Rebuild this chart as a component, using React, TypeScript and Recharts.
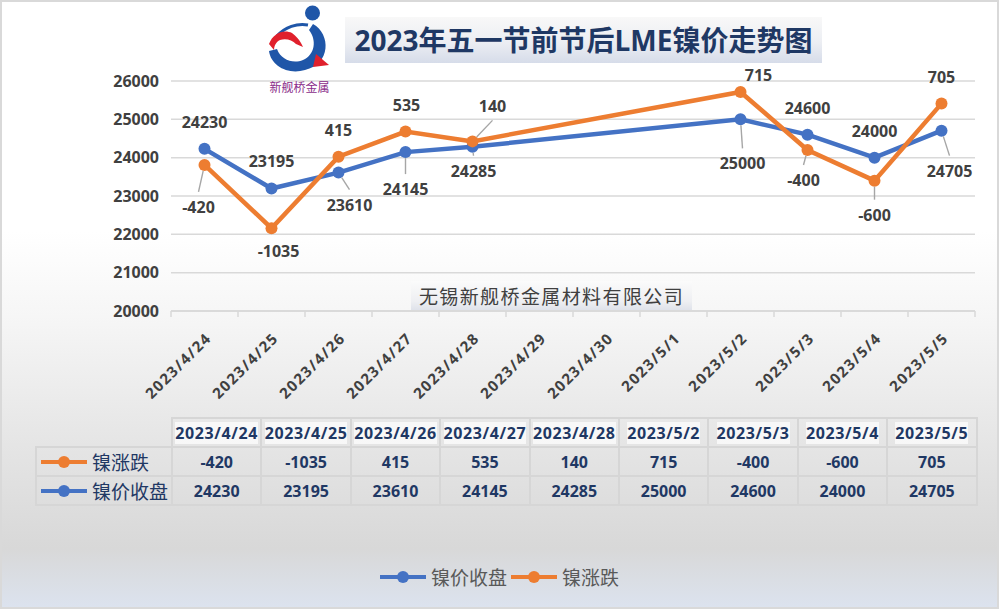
import React from 'react';
import { LineChart, Line, XAxis, YAxis, CartesianGrid, LabelList, Legend } from 'recharts';

const dates = [
  '2023/4/24', '2023/4/25', '2023/4/26', '2023/4/27', '2023/4/28', '2023/4/29',
  '2023/4/30', '2023/5/1', '2023/5/2', '2023/5/3', '2023/5/4', '2023/5/5',
];
const closePrice = [24230, 23195, 23610, 24145, 24285, null, null, null, 25000, 24600, 24000, 24705];
const priceChange = [-420, -1035, 415, 535, 140, null, null, null, 715, -400, -600, 705];
const yTicks = [20000, 21000, 22000, 23000, 24000, 25000, 26000];

const BLUE = '#4472c4';
const ORANGE = '#ed7d31';
const NAVY = '#1f3864';
const TEXT = '#404040';
const FONT = "'Open Sans', 'Noto Sans CJK SC', sans-serif";
const CJK = "'Noto Sans CJK SC', sans-serif";

const W = 999;
const H = 609;
const PLOT_LEFT = 171;
const PLOT_W = 804;
const BAND = PLOT_W / dates.length;

// the orange line sits at close + change in the original sheet
const data = dates.map((d, i) => ({
  date: d,
  close: closePrice[i],
  change: priceChange[i],
  changePlot: closePrice[i] == null || priceChange[i] == null ? null : (closePrice[i] as number) + (priceChange[i] as number),
}));

const tableCols = dates
  .map((d, i) => ({ d, close: closePrice[i], change: priceChange[i] }))
  .filter((c) => c.close != null);

// label placement: [dx, dy, leader line]
type Place = [number, number, boolean?];
const closePlace: Record<number, Place> = {
  0: [0, -27], 1: [0, -28], 2: [11, 32, true], 3: [0, 37, true], 4: [1, 24, true],
  8: [2, 44, true], 9: [0, -27], 10: [0, -27], 11: [8, 40, true],
};
const changePlace: Record<number, Place> = {
  0: [-6, 42, true], 1: [7, 23], 2: [0, -27], 3: [1, -27], 4: [20, -35, true],
  8: [18, -17], 9: [-4, 30, true], 10: [0, 34, true], 11: [0, -27],
};

const makeLabel = (place: Record<number, Place>) => (props: any) => {
  const x = props.x ?? props.viewBox?.x;
  const y = props.y ?? props.viewBox?.y;
  const { value, index } = props;
  if (value == null || x == null || y == null) return null;
  const p = place[index];
  if (!p) return null;
  const [dx, dy, leader] = p;
  const lx = x + dx;
  const ly = y + dy;
  let line = null;
  if (leader) {
    const ex = lx;
    const ey = dy > 0 ? ly - 15 : ly + 14;
    const len = Math.hypot(ex - x, ey - y) || 1;
    const sx = x + ((ex - x) / len) * 6;
    const sy = y + ((ey - y) / len) * 6;
    line = <line x1={sx} y1={sy} x2={ex} y2={ey} stroke="#a6a6a6" strokeWidth={1.4} />;
  }
  return (
    <g>
      {line}
      <text x={lx} y={ly + 6} textAnchor="middle" fill={TEXT} fontSize={16} fontWeight="bold" fontFamily={FONT}>
        {value}
      </text>
    </g>
  );
};

const DateTick = (props: any) => {
  const { x, y, payload, index } = props;
  const half = BAND / 2;
  const ax = x + 8;
  const ay = y + 28;
  return (
    <g>
      <line x1={x - half} y1={y} x2={x - half} y2={y + 6} stroke="#d9d9d9" strokeWidth={1.5} />
      {index === dates.length - 1 && (
        <line x1={x + half} y1={y} x2={x + half} y2={y + 6} stroke="#d9d9d9" strokeWidth={1.5} />
      )}
      <text
        x={ax}
        y={ay}
        transform={`rotate(-45 ${ax} ${ay})`}
        textAnchor="end"
        fill={TEXT}
        fontSize={15}
        fontWeight="bold"
        fontFamily={FONT}
        letterSpacing={1.5}
      >
        {payload.value}
      </text>
    </g>
  );
};

const Key = ({ color }: { color: string }) => (
  <svg width={46} height={14} style={{ display: 'block' }}>
    <line x1={0} y1={7} x2={46} y2={7} stroke={color} strokeWidth={4} strokeLinecap="round" />
    <circle cx={23} cy={7} r={6} fill={color} />
  </svg>
);

const BottomLegend = () => (
  <div style={{ display: 'flex', justifyContent: 'center', alignItems: 'center', fontFamily: CJK, fontSize: 19, color: '#595959' }}>
    <Key color={BLUE} />
    <span style={{ marginLeft: 5, marginRight: 4 }}>镍价收盘</span>
    <Key color={ORANGE} />
    <span style={{ marginLeft: 5 }}>镍涨跌</span>
  </div>
);

const Logo = () => (
  <svg width={90} height={100} style={{ position: 'absolute', left: 255, top: 0 }}>
    <circle cx={57.5} cy={13} r={7.5} fill="#1f56a8" />
    <path d="M 58 24 C 76 34, 76 64, 50 70 C 33 75, 16 66, 14 51 L 22 49 C 26 60, 38 64, 48 60 C 60 55, 62 40, 54 30 Z" fill="#1f56a8" />
    <path d="M 22 36 C 30 27, 42 23, 53 25" stroke="#1f56a8" strokeWidth={3} fill="none" />
    <path d="M 14 44 C 18 33, 29 29, 37 33 C 41 36, 45 40, 48 47 L 41 44 C 37 40, 31 38, 25 40 C 21 42, 19 46, 19 50 Z" fill="#e0202c" />
    <path d="M 61 54 L 74 65 L 58 67 Z" fill="#e0202c" />
    <text x={44.5} y={92} textAnchor="middle" fontSize={12} fill="#8a2d8a" fontFamily={CJK}>
      新舰桥金属
    </text>
  </svg>
);

const cellBase: React.CSSProperties = {
  border: '2px solid #d6d6d6',
  padding: 0,
  height: 27,
  textAlign: 'center',
  color: NAVY,
  fontWeight: 'bold',
  fontSize: 16,
  fontFamily: FONT,
};

const DataTable = () => (
  <table
    style={{
      position: 'absolute',
      left: 35,
      top: 417,
      borderCollapse: 'collapse',
      tableLayout: 'fixed',
      width: 941,
    }}
  >
    <colgroup>
      <col style={{ width: 136 }} />
      {tableCols.map((c) => (
        <col key={c.d} style={{ width: 89.4 }} />
      ))}
    </colgroup>
    <tbody>
      <tr>
        <td style={{ ...cellBase, border: 'none' }} />
        {tableCols.map((c) => (
          <td key={c.d} style={{ ...cellBase, letterSpacing: 0.6 }}>
            <span style={{ background: 'rgba(255,255,255,0.7)' }}>{c.d}</span>
          </td>
        ))}
      </tr>
      <tr>
        <td style={{ ...cellBase, textAlign: 'left' }}>
          <div style={{ display: 'flex', alignItems: 'center', paddingLeft: 4 }}>
            <Key color={ORANGE} />
            <span style={{ fontFamily: CJK, fontWeight: 'normal', fontSize: 19, marginLeft: 5 }}>镍涨跌</span>
          </div>
        </td>
        {tableCols.map((c) => (
          <td key={c.d} style={cellBase}>
            {c.change}
          </td>
        ))}
      </tr>
      <tr>
        <td style={{ ...cellBase, textAlign: 'left' }}>
          <div style={{ display: 'flex', alignItems: 'center', paddingLeft: 4 }}>
            <Key color={BLUE} />
            <span style={{ fontFamily: CJK, fontWeight: 'normal', fontSize: 19, marginLeft: 5 }}>镍价收盘</span>
          </div>
        </td>
        {tableCols.map((c) => (
          <td key={c.d} style={cellBase}>
            {c.close}
          </td>
        ))}
      </tr>
    </tbody>
  </table>
);

export default function App() {
  return (
    <div
      style={{
        position: 'absolute',
        left: 0,
        top: 0,
        width: W,
        height: H,
        overflow: 'hidden',
        background:
          'linear-gradient(180deg, #ffffff 0%, #ffffff 38%, #f6f6f6 52%, #e9e9e9 68%, #dedede 82%, #d8d8d8 90%, #dce3ef 100%)',
        boxShadow: 'inset 0 0 0 2px #d9d9d9',
      }}
    >
      <LineChart
        width={W}
        height={H}
        data={data}
        margin={{ top: 81, right: W - PLOT_LEFT - PLOT_W, bottom: 268, left: 0 }}
      >
        <CartesianGrid vertical={false} stroke="#d9d9d9" strokeWidth={1.5} />
        <XAxis
          dataKey="date"
          type="category"
          height={30}
          padding={{ left: BAND / 2, right: BAND / 2 }}
          tickLine={false}
          tickSize={0}
          tickMargin={0}
          interval={0}
          axisLine={{ stroke: '#d9d9d9', strokeWidth: 1.5 }}
          tick={<DateTick />}
        />
        <YAxis
          width={PLOT_LEFT}
          domain={[20000, 26000]}
          ticks={yTicks}
          axisLine={false}
          tickLine={false}
          tickSize={8}
          tickMargin={4}
          tick={{ fill: TEXT, fontSize: 16, fontWeight: 'bold', fontFamily: FONT }}
        />
        <Legend
          layout="horizontal"
          verticalAlign="middle"
          align="center"
          content={() => <BottomLegend />}
          wrapperStyle={{ top: 563, left: 0, width: W }}
        />
        <Line
          dataKey="close"
          name="镍价收盘"
          stroke={BLUE}
          strokeWidth={4.5}
          connectNulls
          dot={{ r: 6, fill: BLUE, stroke: BLUE, strokeWidth: 0 }}
          activeDot={false}
          isAnimationActive={false}
        >
          <LabelList dataKey="close" content={makeLabel(closePlace)} />
        </Line>
        <Line
          dataKey="changePlot"
          name="镍涨跌"
          stroke={ORANGE}
          strokeWidth={4.5}
          connectNulls
          dot={{ r: 6, fill: ORANGE, stroke: ORANGE, strokeWidth: 0 }}
          activeDot={false}
          isAnimationActive={false}
        >
          <LabelList dataKey="change" content={makeLabel(changePlace)} />
        </Line>
      </LineChart>

      <Logo />

      <div
        style={{
          position: 'absolute',
          left: 345,
          top: 17,
          width: 477,
          height: 46,
          background: 'linear-gradient(180deg, #f8f8f8 0%, #eceef3 55%, #d6dce9 100%)',
          color: NAVY,
          fontFamily: FONT,
          fontWeight: 'bold',
          fontSize: 28,
          lineHeight: '46px',
          textAlign: 'center',
          whiteSpace: 'nowrap',
        }}
      >
        2023年五一节前节后LME镍价走势图
      </div>

      <div
        style={{
          position: 'absolute',
          left: 411,
          top: 281,
          width: 281,
          height: 29,
          background: 'linear-gradient(180deg, #fbfbfb 0%, #eeeff2 70%, #dfe2ea 100%)',
          color: TEXT,
          fontFamily: CJK,
          fontSize: 19,
          lineHeight: '29px',
          textAlign: 'center',
          letterSpacing: 1.4,
          whiteSpace: 'nowrap',
        }}
      >
        无锡新舰桥金属材料有限公司
      </div>

      <DataTable />
    </div>
  );
}
